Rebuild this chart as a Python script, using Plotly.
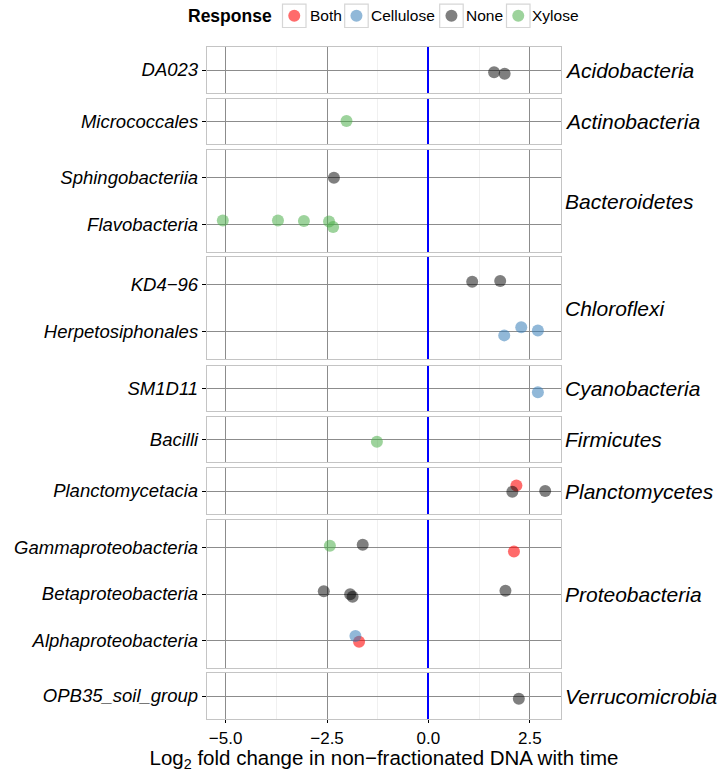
import plotly.graph_objects as go

# ---------------- data ----------------
phyla = ["Acidobacteria", "Actinobacteria", "Bacteroidetes", "Chloroflexi",
         "Cyanobacteria", "Firmicutes", "Planctomycetes", "Proteobacteria",
         "Verrucomicrobia"]
taxa_by_phylum = [
    ["DA023"],
    ["Micrococcales"],
    ["Sphingobacteriia", "Flavobacteria"],
    ["KD4\u221296", "Herpetosiphonales"],
    ["SM1D11"],
    ["Bacilli"],
    ["Planctomycetacia"],
    ["Gammaproteobacteria", "Betaproteobacteria", "Alphaproteobacteria"],
    ["OPB35_soil_group"],
]
responses = ["Both", "Cellulose", "None", "Xylose"]

point_phylum = (["Acidobacteria"] * 2 + ["Actinobacteria"] +
                ["Bacteroidetes"] * 6 + ["Chloroflexi"] * 5 +
                ["Cyanobacteria"] + ["Firmicutes"] + ["Planctomycetes"] * 3 +
                ["Proteobacteria"] * 9 + ["Verrucomicrobia"])
point_taxon = (["DA023", "DA023", "Micrococcales", "Sphingobacteriia"] +
               ["Flavobacteria"] * 5 +
               ["KD4\u221296"] * 2 + ["Herpetosiphonales"] * 3 +
               ["SM1D11", "Bacilli"] + ["Planctomycetacia"] * 3 +
               ["Gammaproteobacteria"] * 3 + ["Betaproteobacteria"] * 4 +
               ["Alphaproteobacteria"] * 2 + ["OPB35_soil_group"])
point_response = (["None", "None", "Xylose", "None"] + ["Xylose"] * 5 +
                  ["None", "None"] + ["Cellulose"] * 3 +
                  ["Cellulose", "Xylose"] + ["Both", "None", "None"] +
                  ["Xylose", "None", "Both"] + ["None"] * 4 +
                  ["Cellulose", "Both"] + ["None"])
point_lfc = [1.62, 1.88, -2.02, -2.33,
             -5.07, -3.71, -3.07, -2.45, -2.35,
             1.08, 1.77, 1.87, 2.29, 2.70,
             2.70, -1.27,
             2.17, 2.07, 2.88,
             -2.43, -1.62, 2.11,
             -2.58, -1.93, -1.87, 1.90,
             -1.80, -1.71,
             2.23]
point_jitter = [-0.05, -0.08, 0.01, 0.0,
                0.08, 0.08, 0.07, 0.06, -0.06,
                0.065, 0.08, -0.09, 0.086, 0.014,
                -0.08, -0.05,
                0.12, -0.014, 0.0,
                0.04, 0.06, -0.086,
                0.057, -0.007, -0.057, 0.07,
                0.093, -0.03,
                -0.057]

x_ticks = [-5.0, -2.5, 0.0, 2.5]
x_tick_labels = ["\u22125.0", "\u22122.5", "0.0", "2.5"]
x_minor = [-3.75, -1.25, 1.25]

# ---------------- style ----------------
colors = {"Both": "rgba(255,0,0,0.58)", "Cellulose": "rgba(55,126,184,0.55)",
          "None": "rgba(0,0,0,0.5)", "Xylose": "rgba(77,175,74,0.55)"}
W, H = 718, 772
plot_top, plot_bottom = 47, 719
plot_left, plot_right = 207, 561
ML, MR, MT, MB = plot_left, W - plot_right, plot_top, H - plot_bottom
plot_h = plot_bottom - plot_top
plot_w = plot_right - plot_left
panel_px = [(47, 93), (99, 144), (150, 252), (257, 359), (366, 411),
            (417, 462), (468, 514), (520, 668), (673, 719)]
row_unit = 46.4
FONT = "Liberation Sans, Arial, sans-serif"
grid_col = "#8c8c8c"
border_col = "#c4c4c4"


def px_x(wx):
    return (wx - plot_left) / plot_w


def px_y(wy):
    return (plot_bottom - wy) / plot_h


fig = go.Figure()
for i, ph in enumerate(phyla):
    taxa = taxa_by_phylum[i]
    for r in responses:
        idx = [k for k in range(len(point_lfc))
               if point_phylum[k] == ph and point_response[k] == r]
        if not idx:
            continue
        xs = [point_lfc[k] for k in idx]
        ys = [taxa.index(point_taxon[k]) - point_jitter[k] for k in idx]
        fig.add_trace(go.Scatter(
            x=xs, y=ys, mode="markers", name=r, legendgroup=r,
            showlegend=False,
            marker=dict(size=12, color=colors[r], line=dict(width=0)),
            xaxis="x" if i == 0 else f"x{i+1}",
            yaxis="y" if i == 0 else f"y{i+1}"))

layout = dict(width=W, height=H, plot_bgcolor="white", paper_bgcolor="white",
              margin=dict(l=ML, r=MR, t=MT, b=MB, autoexpand=False),
              font=dict(family=FONT, color="black"),
              showlegend=False)
annotations, shapes = [], []
for i, ph in enumerate(phyla):
    n = len(taxa_by_phylum[i])
    top, bot = panel_px[i]
    d0, d1 = px_y(bot), px_y(top)
    pad = ((bot - top) / row_unit - (n - 1)) / 2
    sx = "" if i == 0 else str(i + 1)
    last = i == len(phyla) - 1
    layout[f"xaxis{sx}"] = dict(
        domain=[0, 1], anchor=f"y{sx}", range=[-5.46, 3.27],
        tickvals=x_ticks, ticktext=x_tick_labels, showticklabels=last,
        ticks="outside" if last else "", ticklen=3, tickcolor="black",
        tickfont=dict(size=17, color="black"), automargin=False,
        showgrid=True, gridcolor=grid_col, gridwidth=1,
        minor=dict(tickvals=x_minor, showgrid=True, gridcolor="#f0f0f0",
                   gridwidth=1),
        zeroline=True, zerolinecolor="#0000ff", zerolinewidth=1.6,
        showline=True, mirror=True, linecolor=border_col,
        linewidth=1.3, **({} if i == 0 else {"matches": "x"}))
    if last:
        layout[f"xaxis{sx}"]["title"] = dict(
            text="Log<sub>2</sub> fold change in non\u2212fractionated DNA with time",
            font=dict(size=20.5), standoff=4)
    layout[f"yaxis{sx}"] = dict(
        domain=[d0, d1], anchor=f"x{sx}", range=[n - 1 + pad, -pad],
        tickvals=list(range(n)),
        ticktext=[f"<i>{t}</i>" for t in taxa_by_phylum[i]],
        tickfont=dict(size=18.5, color="black"), ticks="outside", ticklen=4,
        tickcolor="black", showgrid=True, gridcolor=grid_col, gridwidth=1,
        zeroline=False, showline=True, mirror=True, linecolor=border_col,
        linewidth=1.3, automargin=False)
    annotations.append(dict(text=f"<i>{ph}</i>", xref="paper", yref="paper",
                            x=px_x(563), y=(d0 + d1) / 2,
                            xanchor="left", yanchor="middle", showarrow=False,
                            font=dict(size=21, color="black")))

# ---------------- legend (ggplot style, with key boxes) ----------------
legend_y = 15.8
annotations.append(dict(text="<b>Response</b>", xref="paper", yref="paper",
                        x=px_x(186), y=px_y(legend_y), xanchor="left",
                        yanchor="middle", showarrow=False,
                        font=dict(size=17.5, color="black")))
key_left = [282.5, 344.7, 439.7, 506.5]
text_left = [307.5, 368.8, 463.8, 530.4]
for r, kl, tl in zip(responses, key_left, text_left):
    shapes.append(dict(type="rect", xref="paper", yref="paper",
                       x0=px_x(kl), x1=px_x(kl + 23.5),
                       y0=px_y(4.2), y1=px_y(27.5),
                       line=dict(color="#d6d6d6", width=1.2),
                       fillcolor="white", layer="above"))
    shapes.append(dict(type="circle", xref="paper", yref="paper",
                       xsizemode="pixel", ysizemode="pixel",
                       xanchor=px_x(kl + 11.75), yanchor=px_y(legend_y),
                       x0=-6, x1=6, y0=-6, y1=6,
                       fillcolor=colors[r], line=dict(width=0),
                       layer="above"))
    annotations.append(dict(text=r, xref="paper", yref="paper",
                            x=px_x(tl), y=px_y(legend_y), xanchor="left",
                            yanchor="middle", showarrow=False,
                            font=dict(size=15.5, color="black")))

layout["annotations"] = annotations
layout["shapes"] = shapes
fig.update_layout(**layout)
fig.write_html("out.html",
               config={"displayModeBar": False},
               post_script="document.body.style.margin='0';"
                           "document.body.style.overflow='hidden';")
